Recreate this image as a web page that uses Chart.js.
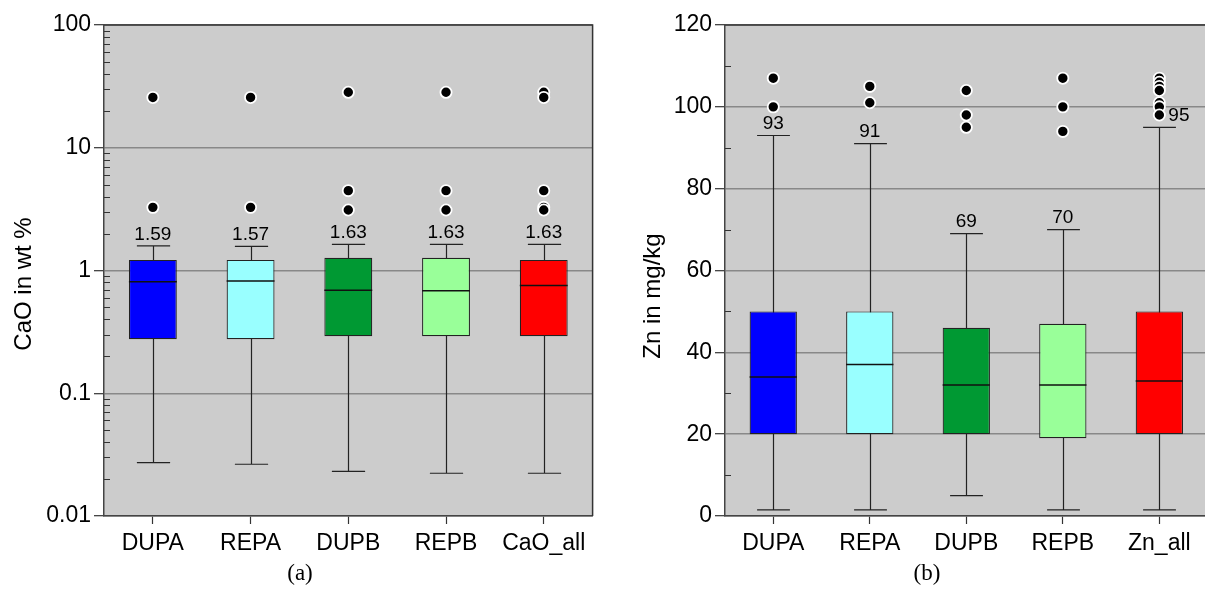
<!DOCTYPE html>
<html>
<head>
<meta charset="utf-8">
<script src="https://cdn.jsdelivr.net/npm/chart.js@4.4.1/dist/chart.umd.min.js"></script>
<style>
  html, body { margin: 0; padding: 0; background: #fff; overflow: hidden; }
  body { width: 1205px; height: 589px; position: relative; }
  .panel { position: absolute; top: 0; height: 589px; }
  #boxA { left: 0; width: 600px; }
  #boxB { left: 600px; width: 615px; }
  .caption {
    position: absolute; top: 559px; width: 80px; margin-left: -40px;
    text-align: center; font: 23px 'Liberation Serif', 'Times New Roman', serif; line-height: 28px;
  }
</style>
</head>
<body>
<div class="panel" id="boxA"><canvas id="chartA"></canvas></div>
<div class="panel" id="boxB"><canvas id="chartB"></canvas></div>
<div class="caption" style="left:300px">(a)</div>
<div class="caption" style="left:927px">(b)</div>
<script>
// categories
const groupsCaO = ['DUPA', 'REPA', 'DUPB', 'REPB', 'CaO_all'];
const groupsZn = ['DUPA', 'REPA', 'DUPB', 'REPB', 'Zn_all'];
const boxColors = ['#0000FF', '#99FFFF', '#009933', '#99FF99', '#FF0000'];

// CaO (wt %)
const caoLow = [0.0272, 0.0264, 0.0231, 0.0223, 0.0223];
const caoQ1 = [0.275, 0.275, 0.291, 0.291, 0.291];
const caoMed = [0.81, 0.82, 0.69, 0.685, 0.753];
const caoQ3 = [1.22, 1.22, 1.27, 1.27, 1.22];
const caoHigh = [1.59, 1.57, 1.63, 1.63, 1.63];
const caoOut = [[25.7, 3.27], [25.7, 3.27], [28.3, 4.47, 3.11], [28.3, 4.47, 3.11], [28.3, 25.7, 4.47, 3.27, 3.11]];
const caoTicks = [0.01, 0.1, 1, 10, 100];

// Zn (mg/kg)
const znLow = [1.5, 1.5, 5, 1.5, 1.5];
const znQ1 = [20, 20, 20, 19, 20];
const znMed = [34, 37, 32, 32, 33];
const znQ3 = [50, 50, 46, 47, 50];
const znHigh = [93, 91, 69, 70, 95];
const znOut = [[107, 100], [105, 101], [104, 98, 95], [107, 100, 94], [107, 106, 105, 104, 101, 100, 98]];
const znTicks = [0, 20, 40, 60, 80, 100, 120];

const sans = "'Liberation Sans', Arial, sans-serif";

const boxParts = {
    id: 'boxParts',
    beforeDraw(chart) {
        const {ctx, chartArea: a} = chart;
        ctx.save();
        ctx.fillStyle = '#CCCCCC';
        ctx.fillRect(a.left, a.top, a.right - a.left, a.bottom - a.top);
        ctx.restore();
    },
    beforeDatasetsDraw(chart, args, o) {
        const {ctx} = chart;
        const x = chart.scales.x, y = chart.scales.y;
        const catW = x.getPixelForValue(1) - x.getPixelForValue(0);
        ctx.save();
        ctx.strokeStyle = '#222';
        ctx.lineWidth = 1.2;
        o.low.forEach((lo, i) => {
            const px = Math.round(x.getPixelForValue(i)) + 0.5;
            ctx.beginPath();
            ctx.moveTo(px, y.getPixelForValue(lo));
            ctx.lineTo(px, y.getPixelForValue(o.high[i]));
            [lo, o.high[i]].forEach(v => {
                const py = y.getPixelForValue(v);
                ctx.moveTo(px - catW * 0.17, py);
                ctx.lineTo(px + catW * 0.17, py);
            });
            ctx.stroke();
        });
        ctx.restore();
    },
    afterDatasetsDraw(chart, args, o) {
        const {ctx, chartArea: a} = chart;
        const x = chart.scales.x, y = chart.scales.y;
        const bars = chart.getDatasetMeta(0).data;
        ctx.save();
        // medians
        ctx.strokeStyle = '#111';
        ctx.lineWidth = 1.5;
        o.median.forEach((m, i) => {
            const b = bars[i];
            const py = y.getPixelForValue(m);
            ctx.beginPath();
            ctx.moveTo(b.x - b.width / 2, py);
            ctx.lineTo(b.x + b.width / 2, py);
            ctx.stroke();
        });
        // whisker top labels
        ctx.fillStyle = '#000';
        ctx.font = '19px ' + sans;
        ctx.textBaseline = 'bottom';
        o.high.forEach((h, i) => {
            const px = x.getPixelForValue(i);
            const py = y.getPixelForValue(h);
            const crowded = o.outliers[i].some(v => {
                const d = py - y.getPixelForValue(v);
                return d > 0 && d < 24;
            });
            ctx.textAlign = crowded ? 'left' : 'center';
            ctx.fillText(String(h), crowded ? px + 9 : px, py - 2);
        });
        // minor ticks inside the left axis
        ctx.strokeStyle = '#333';
        ctx.lineWidth = 1;
        ctx.beginPath();
        o.minor.forEach(v => {
            const py = Math.round(y.getPixelForValue(v)) + 0.5;
            ctx.moveTo(a.left, py);
            ctx.lineTo(a.left + 6, py);
        });
        ctx.stroke();
        // frame top / right
        ctx.strokeStyle = '#333';
        ctx.lineWidth = 1.5;
        ctx.beginPath();
        ctx.moveTo(a.left, a.top);
        ctx.lineTo(a.right, a.top);
        ctx.lineTo(a.right, a.bottom);
        ctx.stroke();
        // y axis title, vertical
        ctx.translate(o.titleX, o.titleY);
        ctx.rotate(-Math.PI / 2);
        ctx.font = '24px ' + sans;
        ctx.textAlign = 'center';
        ctx.textBaseline = 'middle';
        ctx.fillText(o.title, 0, 0);
        ctx.restore();
    }
};

function logMinors(ticks) {
    const out = [];
    ticks.slice(0, -1).forEach(d => {
        for (let k = 2; k <= 9; k++) out.push(d * k);
    });
    return out;
}

function linMinors(ticks) {
    return ticks.slice(0, -1).map((t, i) => (t + ticks[i + 1]) / 2);
}

function makeChart(el, cfg) {
    return new Chart(document.getElementById(el), {
        type: 'bar',
        data: {
            labels: cfg.labels,
            datasets: [
                {
                    data: cfg.q1.map((q, i) => [q, cfg.q3[i]]),
                    backgroundColor: boxColors,
                    borderColor: '#222',
                    borderWidth: 1.2,
                    borderSkipped: false,
                    barPercentage: 0.49,
                    categoryPercentage: 1
                },
                {
                    type: 'line',
                    data: cfg.labels.flatMap((g, i) => cfg.out[i].map(v => ({x: g, y: v}))),
                    showLine: false,
                    pointRadius: 5.6,
                    pointHoverRadius: 5.6,
                    pointBackgroundColor: '#000',
                    pointBorderColor: '#fff',
                    pointBorderWidth: 1.8
                }
            ]
        },
        options: {
            responsive: true,
            maintainAspectRatio: false,
            animation: false,
            events: [],
            layout: {padding: {top: 25, right: cfg.padRight, bottom: 0, left: 0}},
            plugins: {
                legend: {display: false},
                tooltip: {enabled: false},
                boxParts: {
                    low: cfg.low, high: cfg.high, median: cfg.med,
                    outliers: cfg.out, minor: cfg.minor,
                    title: cfg.title, titleX: cfg.titleX, titleY: cfg.titleY
                }
            },
            scales: {
                x: {
                    type: 'category',
                    grid: {offset: false, drawOnChartArea: false, tickLength: 8, tickColor: '#333', tickWidth: 1.2},
                    border: {color: '#444', width: 1.5},
                    ticks: {color: '#000', font: {family: sans, size: 23}, padding: 6, maxRotation: 0, autoSkip: false},
                    afterFit: s => { s.height = 73; }
                },
                y: {
                    type: cfg.yType,
                    min: cfg.ticks[0],
                    max: cfg.ticks[cfg.ticks.length - 1],
                    afterBuildTicks: s => { s.ticks = cfg.ticks.map(v => ({value: v})); },
                    ticks: {color: '#000', font: {family: sans, size: 23}, padding: 3, autoSkip: false, callback: v => String(v)},
                    grid: {color: '#888', lineWidth: 1.4, tickLength: 10, tickColor: '#333', tickWidth: 1.2},
                    border: {color: '#444', width: 1.5},
                    afterFit: s => { s.width = cfg.yWidth; }
                }
            }
        },
        plugins: [boxParts]
    });
}

makeChart('chartA', {
    labels: groupsCaO, low: caoLow, q1: caoQ1, med: caoMed, q3: caoQ3, high: caoHigh, out: caoOut,
    ticks: caoTicks, minor: logMinors(caoTicks), yType: 'logarithmic',
    title: 'CaO in wt %', titleX: 24, titleY: 284, yWidth: 104, padRight: 6
});

makeChart('chartB', {
    labels: groupsZn, low: znLow, q1: znQ1, med: znMed, q3: znQ3, high: znHigh, out: znOut,
    ticks: znTicks, minor: linMinors(znTicks), yType: 'linear',
    title: 'Zn in mg/kg', titleX: 53, titleY: 296, yWidth: 125, padRight: 0
});
</script>
</body>
</html>
